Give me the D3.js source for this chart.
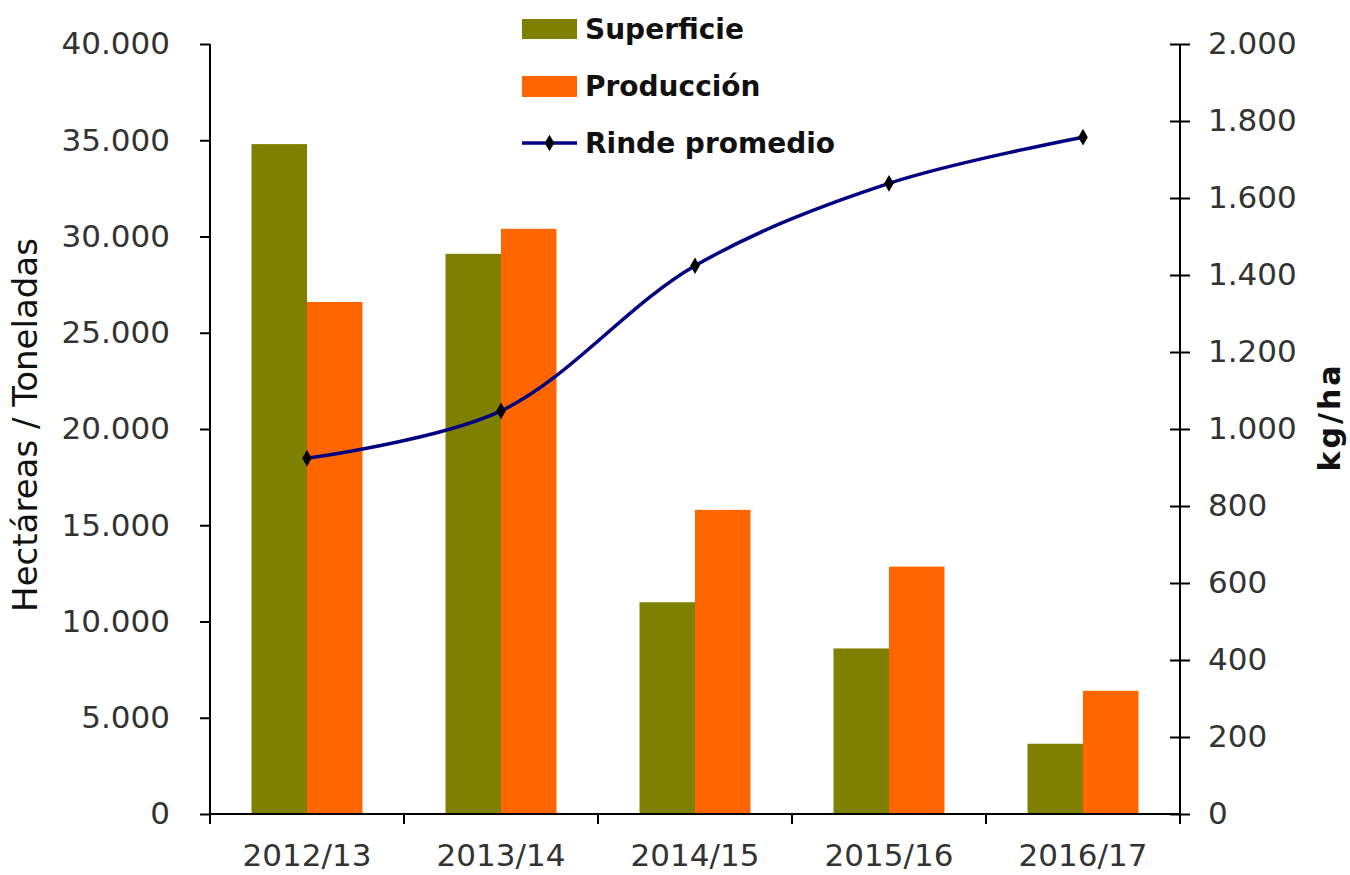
<!DOCTYPE html>
<html>
<head>
<meta charset="utf-8">
<script src="https://cdn.jsdelivr.net/npm/d3@7"></script>
<style>
  body { margin: 0; background: #fff; }
  svg { font-family: "DejaVu Sans", Verdana, sans-serif; }
  .tick text { fill: #333; font-size: 31px; font-family: "DejaVu Sans", Verdana, sans-serif; }
  .domain, .tick line { stroke: #000; stroke-width: 2px; }
</style>
</head>
<body>
<svg id="chart" width="1350" height="875"></svg>
<script>
// campaigns
const campaigns = ['2012/13', '2013/14', '2014/15', '2015/16', '2016/17'];
// hectares sown
const superficie = [34800, 29100, 11000, 8600, 3650];
// tonnes produced
const produccion = [26600, 30400, 15800, 12850, 6400];
// average yield kg/ha
const rinde = [924, 1047, 1424, 1638, 1758];

const leftTicks = [0, 5000, 10000, 15000, 20000, 25000, 30000, 35000, 40000];
const rightTicks = [0, 200, 400, 600, 800, 1000, 1200, 1400, 1600, 1800, 2000];

const svg = d3.select('#chart');
const plotLeft = 210, plotRight = 1180, plotTop = 44, plotBottom = 814;

// es-AR style thousands separator "."
const fmt = d => d3.format(',')(d).replace(/,/g, '.');

let x = d3.scaleBand().domain(campaigns).range([plotLeft, plotRight]);
let yL = d3.scaleLinear().domain([0, 40000]).range([plotBottom, plotTop]);
let yR = d3.scaleLinear().domain([0, 2000]).range([plotBottom, plotTop]);
let xSub = d3.scaleBand().domain(['s', 'p']).range([0, 111]);

// bars
let groups = svg.append('g').selectAll('g')
    .data(campaigns)
    .enter()
    .append('g')
    .attr('transform', d => 'translate(' + (x(d) + x.bandwidth() / 2 - 55.5) + ',0)');

groups.append('rect')
    .attr('x', xSub('s'))
    .attr('width', xSub.bandwidth())
    .attr('y', (d, i) => yL(superficie[i]))
    .attr('height', (d, i) => plotBottom - yL(superficie[i]))
    .attr('fill', '#808000');

groups.append('rect')
    .attr('x', xSub('p'))
    .attr('width', xSub.bandwidth())
    .attr('y', (d, i) => yL(produccion[i]))
    .attr('height', (d, i) => plotBottom - yL(produccion[i]))
    .attr('fill', '#ff6600');

// axes
let axL = svg.append('g')
    .attr('transform', 'translate(' + plotLeft + ',0)')
    .call(d3.axisLeft(yL).tickValues(leftTicks).tickFormat(fmt).tickSize(10).tickPadding(30));
axL.select('.domain').attr('d', 'M0,' + plotTop + 'V' + plotBottom);

let axR = svg.append('g')
    .attr('transform', 'translate(' + plotRight + ',0)')
    .call(d3.axisRight(yR).tickValues(rightTicks).tickFormat(fmt).tickSize(10).tickPadding(18));
axR.select('.domain').attr('d', 'M0,' + plotTop + 'V' + plotBottom);
axR.selectAll('.tick line').attr('x1', -10);

let axB = svg.append('g')
    .attr('transform', 'translate(0,' + plotBottom + ')')
    .call(d3.axisBottom(x).tickSize(0).tickPadding(30));
axB.select('.domain').attr('d', 'M' + plotLeft + ',0H' + plotRight);
// boundary ticks between categories
svg.append('g').selectAll('line')
    .data(d3.range(campaigns.length + 1))
    .enter()
    .append('line')
    .attr('x1', i => plotLeft + i * x.step())
    .attr('x2', i => plotLeft + i * x.step())
    .attr('y1', plotBottom)
    .attr('y2', plotBottom + 10)
    .attr('stroke', '#000')
    .attr('stroke-width', 2);

// yield line
let line = d3.line()
    .x((d, i) => x(campaigns[i]) + x.bandwidth() / 2)
    .y(d => yR(d))
    .curve(d3.curveCatmullRom.alpha(0.5));

svg.append('path')
    .datum(rinde)
    .attr('d', line)
    .attr('fill', 'none')
    .attr('stroke', '#000080')
    .attr('stroke-width', 3.5);

let diamond = d3.symbol().type(d3.symbolDiamond).size(80);
svg.append('g').selectAll('path')
    .data(rinde)
    .enter()
    .append('path')
    .attr('d', diamond)
    .attr('transform', (d, i) => 'translate(' + (x(campaigns[i]) + x.bandwidth() / 2) + ',' + yR(d) + ')')
    .attr('fill', '#000');

// axis titles
svg.append('text')
    .attr('transform', 'translate(37,425) rotate(-90)')
    .attr('text-anchor', 'middle')
    .attr('font-size', 34)
    .attr('fill', '#111')
    .text('Hectáreas / Toneladas');

svg.append('text')
    .attr('transform', 'translate(1340,417) rotate(-90)')
    .attr('text-anchor', 'middle')
    .attr('font-size', 30)
    .attr('font-weight', 'bold')
    .attr('letter-spacing', 3)
    .attr('fill', '#111')
    .text('kg/ha');

// legend
let legend = svg.append('g').attr('transform', 'translate(522,0)');
legend.append('rect').attr('x', 0).attr('y', 19).attr('width', 55).attr('height', 20).attr('fill', '#808000');
legend.append('rect').attr('x', 0).attr('y', 76).attr('width', 55).attr('height', 21).attr('fill', '#ff6600');
legend.append('line').attr('x1', 0).attr('x2', 55).attr('y1', 143).attr('y2', 143)
    .attr('stroke', '#000080').attr('stroke-width', 3.5);
legend.append('path').attr('d', diamond).attr('transform', 'translate(27.5,143)').attr('fill', '#000');

let labels = ['Superficie', 'Producción', 'Rinde promedio'];
legend.selectAll('text.leg')
    .data(labels)
    .enter()
    .append('text')
    .attr('class', 'leg')
    .attr('x', 63)
    .attr('y', (d, i) => 39 + i * 57)
    .attr('font-size', 28)
    .attr('font-weight', 'bold')
    .attr('fill', '#111')
    .text(d => d);
</script>
</body>
</html>
